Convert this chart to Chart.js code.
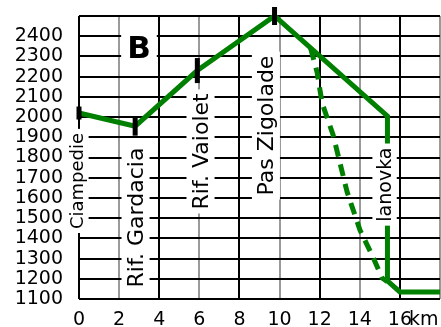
<!DOCTYPE html>
<html><head><meta charset="utf-8">
<script src="https://cdn.jsdelivr.net/npm/chart.js@4"></script>
<style>html,body{margin:0;padding:0;background:#fff;overflow:hidden;}canvas{display:block;}</style>
</head><body><canvas id="c" width="441" height="327"></canvas>
<script>
const stopKm = [0, 2.8, 5.9, 9.75];
const stopElev = [2020, 1955, 2230, 2500];
const routeKm = [0, 2.8, 5.9, 9.75, 15.38, 15.38, 16.0, 18];
const routeElev = [2020, 1955, 2230, 2500, 2005, 1190, 1135, 1135];
const descentKm = [11.55, 11.87, 12.12, 12.67, 13.37, 14.01, 14.61, 15.11, 15.38];
const descentElev = [2340, 2223, 2070, 1911, 1629, 1441, 1318, 1204, 1185];
const xTickValues = [0, 2, 4, 6, 8, 10, 12, 14, 16, 18];
const xTickLabels = ['0', '2', '4', '6', '8', '10', '12', '14', '16', ''];
const yTickValues = [1100, 1200, 1300, 1400, 1500, 1600, 1700, 1800, 1900, 2000, 2100, 2200, 2300, 2400, 2500];
const yTickLabels = ['1100', '1200', '1300', '1400', '1500', '1600', '1700', '1800', '1900', '2000', '2100', '2200', '2300', '2400', ''];
const placeNames = ['Ciampedie', 'Rif. Gardacia', 'Rif. Vaiolet', 'Pas Zigolade', 'lanovka'];
const placeKm = [0.21, 3.19, 6.43, 9.69, 15.56];
const placeElev = [1684, 1503, 1830, 1958, 1666];
const placeFontSize = [18, 22, 22, 22, 19];
const panelLetter = 'B';
const panelKm = 2.99;
const panelElev = 2292;
const unitLabel = 'km';

const FONT = '"DejaVu Sans", sans-serif';
const GREEN = '#008000';
const X_TICK_PAD = 10;

function zeroPad(s) { s.paddingLeft = 0; s.paddingRight = 0; s.paddingTop = 0; s.paddingBottom = 0; }

const labelsPlugin = {
  id: 'labels',
  afterLayout(chart) {
    const x = chart.scales.x;
    const right = chart.width - 1;
    chart.chartArea.right = right;
    chart.chartArea.width = right - chart.chartArea.left;
    x.right = right;
    x.width = right - x.left;
    x.configure();
  },
  afterDatasetsDraw(chart) {
    const { ctx, scales: { x, y } } = chart;
    placeNames.forEach((t, i) => {
      const px = x.getPixelForValue(placeKm[i]);
      const py = y.getPixelForValue(placeElev[i]);
      const fs = placeFontSize[i];
      ctx.save();
      ctx.font = fs + 'px ' + FONT;
      const w = ctx.measureText(t).width;
      ctx.translate(px, py);
      ctx.rotate(-Math.PI / 2);
      const asc = fs * 0.93 + 1, desc = fs * 0.3;
      ctx.fillStyle = '#fff';
      ctx.fillRect(-w / 2 - 4, -asc, w + 8, asc + desc);
      ctx.fillStyle = '#000';
      ctx.textAlign = 'center';
      ctx.textBaseline = 'alphabetic';
      ctx.fillText(t, 0, 0);
      ctx.restore();
    });
    const bx = x.getPixelForValue(panelKm);
    const by = y.getPixelForValue(panelElev);
    ctx.save();
    ctx.font = 'bold 31px ' + FONT;
    const bw = ctx.measureText(panelLetter).width;
    ctx.fillStyle = '#fff';
    ctx.fillRect(bx - bw / 2 - 6, by - 28, bw + 12, 32);
    ctx.fillStyle = '#000';
    ctx.textAlign = 'center';
    ctx.textBaseline = 'alphabetic';
    ctx.fillText(panelLetter, bx, by);
    ctx.restore();
  },
  afterDraw(chart) {
    const { ctx, scales: { x } } = chart;
    ctx.save();
    ctx.font = '19px ' + FONT;
    ctx.fillStyle = '#000';
    ctx.textAlign = 'left';
    ctx.textBaseline = 'middle';
    ctx.fillText(unitLabel, x.getPixelForValue(16) + 9, x.top + X_TICK_PAD + 11.4);
    ctx.restore();
  }
};

new Chart(document.getElementById('c'), {
  type: 'line',
  data: {
    datasets: [
      {
        data: stopKm.map((v, i) => ({ x: v, y: stopElev[i] })),
        showLine: false,
        pointStyle: 'line',
        pointRotation: 90,
        pointRadius: [6.5, 9.5, 12.5, 9],
        pointBorderWidth: 5,
        pointBorderColor: '#000',
        pointBackgroundColor: '#000',
        clip: false
      },
      {
        data: routeKm.map((v, i) => ({ x: v, y: routeElev[i] })),
        borderColor: GREEN,
        borderWidth: 5,
        pointRadius: 0,
        tension: 0,
        clip: false
      },
      {
        data: descentKm.map((v, i) => ({ x: v, y: descentElev[i] })),
        borderColor: GREEN,
        borderWidth: 5,
        borderDash: [12, 8],
        pointRadius: 0,
        tension: 0,
        clip: false
      }
    ]
  },
  options: {
    responsive: false,
    maintainAspectRatio: false,
    devicePixelRatio: 1,
    animation: false,
    events: [],
    layout: { padding: { top: 16, right: 1, left: 0, bottom: 0 } },
    plugins: { legend: { display: false }, tooltip: { enabled: false } },
    scales: {
      x: {
        type: 'linear', min: 0, max: 18,
        afterBuildTicks: s => { s.ticks = xTickValues.map(v => ({ value: v })); },
        afterFit: s => { s.height = 28; zeroPad(s); },
        grid: {
          color: c => (c.tick && c.tick.value % 4 === 0) ? '#000' : '#9a9a9a',
          lineWidth: 2, drawTicks: false
        },
        border: { display: false },
        ticks: {
          autoSkip: false, maxRotation: 0, minRotation: 0, padding: X_TICK_PAD, color: '#000',
          font: { family: 'DejaVu Sans', size: 19 },
          callback: (v, i) => xTickLabels[i]
        }
      },
      y: {
        type: 'linear', min: 1100, max: 2500,
        afterBuildTicks: s => { s.ticks = yTickValues.map(v => ({ value: v })); },
        afterFit: s => { s.width = 79; zeroPad(s); },
        grid: { color: '#000', lineWidth: 2, drawTicks: false },
        border: { display: false },
        ticks: {
          autoSkip: false, padding: 16, color: '#000',
          font: { family: 'DejaVu Sans', size: 19 },
          callback: (v, i) => yTickLabels[i]
        }
      }
    }
  },
  plugins: [labelsPlugin]
});
</script>
</body></html>
